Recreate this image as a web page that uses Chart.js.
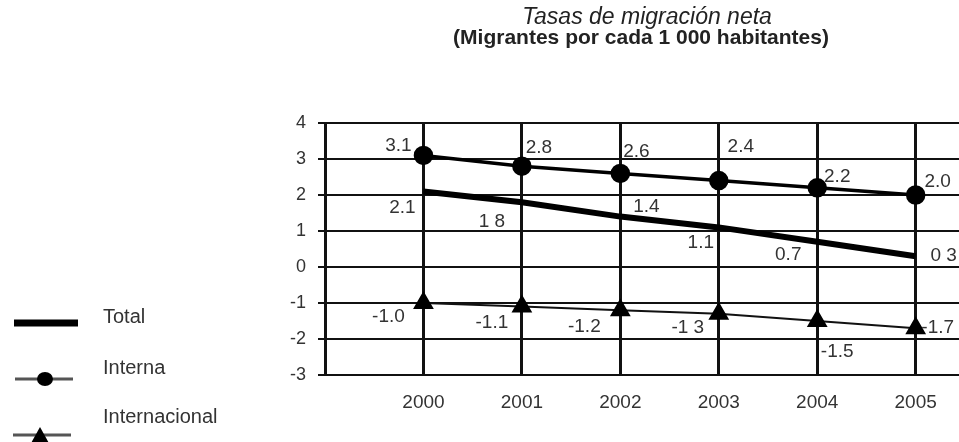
<!DOCTYPE html>
<html>
<head>
<meta charset="utf-8">
<script src="https://cdn.jsdelivr.net/npm/chart.js@4"></script>
<style>
    html, body { margin: 0; padding: 0; background: #fff; }
    canvas { display: block; }
</style>
</head>
<body>
<canvas id="migChart" width="959" height="442"></canvas>
<script>
// datos
const years = [2000, 2001, 2002, 2003, 2004, 2005];
const total = [2.1, 1.8, 1.4, 1.1, 0.7, 0.3];
const interna = [3.1, 2.8, 2.6, 2.4, 2.2, 2.0];
const internacional = [-1.0, -1.1, -1.2, -1.3, -1.5, -1.7];
const totalLabels = ['2.1', '1 8', '1.4', '1.1', '0.7', '0 3'];
const internaLabels = ['3.1', '2.8', '2.6', '2.4', '2.2', '2.0'];
const internacionalLabels = ['-1.0', '-1.1', '-1.2', '-1 3', '-1.5', '-1.7'];
const seriesNames = ['Total', 'Interna', 'Internacional'];
const yTicks = [-3, -2, -1, 0, 1, 2, 3, 4];

// desplazamiento de cada etiqueta respecto al punto (px)
const labelOffsets = [
    [[-21, 16], [-30, 20], [26, -10], [-18, 15], [-29, 13], [28, 0]],
    [[-25, -10], [17, -18], [16, -22], [22, -34], [20, -11], [22, -13]],
    [[-35, 14], [-30, 16], [-36, 17], [-31, 14], [20, 31], [22, 0]]
];
const allLabels = [totalLabels, internaLabels, internacionalLabels];

function toPoints(vals) {
    return vals.map(function(v, i) { return { x: years[i], y: v }; });
}

const FONT = '"Liberation Sans", Arial, sans-serif';

const dataLabelsPlugin = {
    id: 'dataLabels',
    afterDatasetsDraw: function(chart) {
        const ctx = chart.ctx;
        ctx.save();
        ctx.font = '19px ' + FONT;
        ctx.fillStyle = '#333';
        ctx.textAlign = 'center';
        ctx.textBaseline = 'middle';
        chart.data.datasets.forEach(function(ds, d) {
            const meta = chart.getDatasetMeta(d);
            meta.data.forEach(function(pt, i) {
                const off = labelOffsets[d][i];
                ctx.fillText(allLabels[d][i], pt.x + off[0], pt.y + off[1]);
            });
        });
        ctx.restore();
    }
};

// titulo y leyenda dibujados a mano
const decorPlugin = {
    id: 'decor',
    afterDraw: function(chart) {
        const ctx = chart.ctx;
        ctx.save();
        ctx.fillStyle = '#222';
        ctx.textAlign = 'center';
        ctx.textBaseline = 'middle';
        ctx.font = 'italic 23px ' + FONT;
        ctx.fillText('Tasas de migración neta', 647, 18);
        ctx.font = 'bold 21px ' + FONT;
        ctx.fillText('(Migrantes por cada 1 000 habitantes)', 641, 38);

        // leyenda
        ctx.textAlign = 'left';
        ctx.font = '20px ' + FONT;
        ctx.fillStyle = '#333';
        ctx.fillText(seriesNames[0], 103, 317);
        ctx.fillText(seriesNames[1], 103, 368);
        ctx.fillText(seriesNames[2], 103, 417);

        ctx.strokeStyle = '#000';
        ctx.lineWidth = 7;
        ctx.beginPath();
        ctx.moveTo(14, 323);
        ctx.lineTo(78, 323);
        ctx.stroke();

        ctx.strokeStyle = '#555';
        ctx.lineWidth = 3;
        ctx.beginPath();
        ctx.moveTo(15, 379);
        ctx.lineTo(73, 379);
        ctx.stroke();
        ctx.fillStyle = '#000';
        ctx.beginPath();
        ctx.ellipse(45, 379, 8, 7, 0, 0, Math.PI * 2);
        ctx.fill();

        ctx.beginPath();
        ctx.moveTo(13, 435);
        ctx.lineTo(71, 435);
        ctx.stroke();
        ctx.beginPath();
        ctx.moveTo(40, 427);
        ctx.lineTo(50, 445);
        ctx.lineTo(30, 445);
        ctx.closePath();
        ctx.fill();
        ctx.restore();
    }
};

const ctx = document.getElementById('migChart').getContext('2d');
new Chart(ctx, {
    type: 'line',
    data: {
        datasets: [{
            label: seriesNames[0],
            data: toPoints(total),
            borderColor: '#000',
            borderWidth: 6,
            pointRadius: 0,
            tension: 0
        }, {
            label: seriesNames[1],
            data: toPoints(interna),
            borderColor: '#000',
            borderWidth: 3.5,
            pointStyle: 'circle',
            pointRadius: 8,
            pointBackgroundColor: '#000',
            pointBorderColor: '#000',
            tension: 0
        }, {
            label: seriesNames[2],
            data: toPoints(internacional),
            borderColor: '#111',
            borderWidth: 2,
            pointStyle: 'triangle',
            pointRadius: 10,
            pointBackgroundColor: '#000',
            pointBorderColor: '#000',
            tension: 0
        }]
    },
    options: {
        responsive: false,
        animation: false,
        layout: {
            autoPadding: false,   // si no, los marcadores empujan el borde derecho
            padding: { top: 123, left: 0, right: 0, bottom: 0 }
        },
        plugins: {
            legend: { display: false },
            tooltip: { enabled: false },
            title: { display: false }
        },
        scales: {
            x: {
                type: 'linear',
                min: years[0] - 1,
                max: 2005.44,
                afterBuildTicks: function(scale) {
                    // un tick vacio a la izquierda (borde) y uno por año
                    scale.ticks = [years[0] - 1].concat(years).map(function(v) { return { value: v }; });
                },
                afterFit: function(scale) {
                    scale.height = 67;
                    scale.paddingRight = 0;
                },
                ticks: {
                    padding: 16,
                    color: '#333',
                    font: { family: FONT, size: 19 },
                    callback: function(v) { return years.indexOf(v) >= 0 ? String(v) : ''; }
                },
                grid: { color: '#111', lineWidth: 3, drawTicks: false },
                border: { display: false }
            },
            y: {
                min: yTicks[0],
                max: yTicks[yTicks.length - 1],
                afterFit: function(scale) { scale.width = 325; },
                ticks: {
                    stepSize: 1,
                    padding: 12,
                    color: '#333',
                    font: { family: FONT, size: 18 }
                },
                grid: { color: '#111', lineWidth: 2, tickLength: 7 },
                border: { color: '#111', width: 3 }
            }
        }
    },
    plugins: [dataLabelsPlugin, decorPlugin]
});
</script>
</body>
</html>
